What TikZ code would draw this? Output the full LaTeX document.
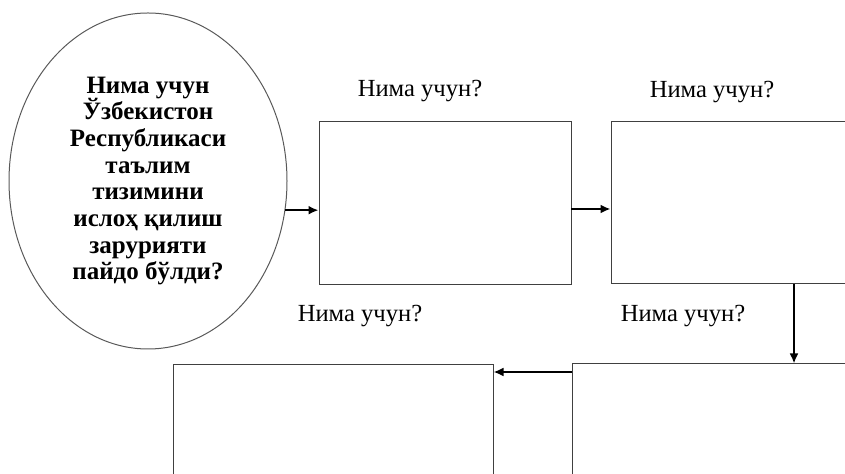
\documentclass[tikz,border=0pt]{standalone}
\usepackage{fontspec}
\setmainfont{Liberation Serif}
\usetikzlibrary{arrows.meta,shapes.geometric}
\tikzset{
  qbox/.style={draw=black!75, line width=0.5pt, inner sep=0pt},
  qarrow/.style={line width=1.3pt, -{Latex[length=5pt,width=4.5pt]}},
  qlabel/.style={font=\fontsize{12.3}{14}\selectfont, inner sep=0pt}
}

\begin{document}
\begin{tikzpicture}[x=0.5pt, y=-0.5pt]
		%%%%% START %%%%%
		\useasboundingbox (0,0) rectangle (845,474);
		\clip (0,0) rectangle (845,474);
		
		\node[qbox, ellipse, draw=black!65, minimum width=139pt, minimum height=168pt, align=center,
		  font=\fontsize{12.5}{13.35}\selectfont\bfseries] (ell) at (148,181)
		  {Нима учун\\Ўзбекистон\\Республикаси\\таълим\\тизимини\\ислоҳ қилиш\\зарурияти\\пайдо бўлди?};
		
		\node[qbox, minimum width=126pt, minimum height=81.5pt] (b1) at (445,203.5) {};
		\node[qbox, minimum width=129.5pt, minimum height=81pt] (b2) at (740.5,203) {};
		\node[qbox, minimum width=149pt, minimum height=88pt] (b3) at (721,452) {};
		\node[qbox, minimum width=160pt, minimum height=87.5pt] (b4) at (333,452.5) {};
		
		\node[qlabel] (q1) at (420,91) {Нима учун?};
		\node[qlabel] (q2) at (712,92) {Нима учун?};
		\node[qlabel] (q3) at (683,316) {Нима учун?};
		\node[qlabel] (q4) at (360,316) {Нима учун?};
		
		\coordinate (r1) at (571,209);
		\coordinate (d2) at (794,284);
		\coordinate (l3) at (572,372);
		
		\draw[qarrow] (ell.-12) -- (ell.-12 -| b1.west);
		\draw[qarrow] (r1) -- (r1 -| b2.west);
		\draw[qarrow] (d2) -- (d2 |- b3.north);
		\draw[qarrow] (l3) -- (l3 -| b4.east);
		
		%%%%% END %%%%%
\end{tikzpicture}
\end{document}
